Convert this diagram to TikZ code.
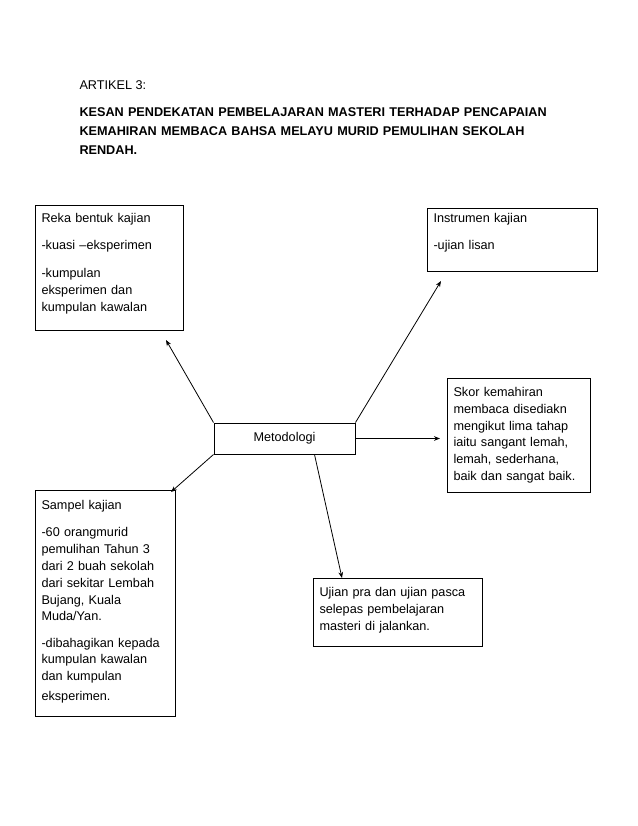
\documentclass[tikz,border=0pt]{standalone}
\usepackage{fontspec}
\setmainfont{Liberation Sans}
\usetikzlibrary{arrows.meta, positioning, calc}
\tikzset{
  every picture/.style={line width=0.75pt, x=0.75pt, y=-0.75pt},
  box/.style={draw, anchor=north west, align=left, inner xsep=4.5pt, inner ysep=0pt, font=\fontsize{9.5}{12.6}\selectfont},
  arrow/.style={-{Stealth[length=4.5pt, width=3.5pt]}, line width=0.6pt},
  title/.style={anchor=base west, align=left, inner sep=0pt, font=\fontsize{9.5}{14.25}\selectfont},
}

\begin{document}
\begin{tikzpicture}
  \useasboundingbox (0,0) rectangle (638,826);
  % heading
  \node[title] (art) at (79,89.5) {ARTIKEL 3:};
  \node[title, text width=420pt, font=\fontsize{9.5}{14.25}\selectfont\bfseries] (judul) at (79,116.5) {KESAN PENDEKATAN PEMBELAJARAN MASTERI TERHADAP PENCAPAIAN\\ KEMAHIRAN MEMBACA BAHSA MELAYU MURID PEMULIHAN SEKOLAH\\ RENDAH.};
  % centre and boxes
  \node[draw, minimum width=105.75pt, minimum height=23.25pt, font=\fontsize{9.5}{12.6}\selectfont] (met) at (284.5,438.5) {Metodologi};
  \node[box, text width=102pt, text height=12.75pt, text depth=81pt] (reka) at (35,205) {Reka bentuk kajian\\[8pt] -kuasi --eksperimen\\[8pt] -kumpulan\\ eksperimen dan\\ kumpulan kawalan};
  \node[box, text width=118.5pt, text height=10.5pt, text depth=36.75pt] (instr) at (427,208) {Instrumen kajian\\[8pt] -ujian lisan};
  \node[box, text width=98.25pt, text height=13.5pt, text depth=72pt] (skor) at (447,378) {Skor kemahiran\\ membaca disediakn\\ mengikut lima tahap\\ iaitu sangant lemah,\\ lemah, sederhana,\\ baik dan sangat baik.};
  \node[box, text width=96pt, text height=14.25pt, text depth=155.25pt] (sampel) at (35,490) {Sampel kajian\\[8pt] -60 orangmurid\\ pemulihan Tahun 3\\ dari 2 buah sekolah\\ dari sekitar Lembah\\ Bujang, Kuala\\ Muda/Yan.\\[7pt] -dibahagikan kepada\\ kumpulan kawalan\\ dan kumpulan\\[2.5pt] eksperimen.};
  \node[box, text width=117.75pt, text height=13.5pt, text depth=37.5pt] (ujian) at (313,578) {Ujian pra dan ujian pasca\\ selepas pembelajaran\\ masteri di jalankan.};
  % arrows out of the centre
  \draw[arrow] (met.north west) -- ($(reka.south east)+(-18,9)$);
  \draw[arrow] (met.north east) -- ($(instr.south west)+(14,9)$);
  \draw[arrow] (met.east) -- ($(met.east -| skor.west)+(-7,0)$);
  \draw[arrow] (met.south west) -- ($(sampel.north east)+(-5,2)$);
  \draw[arrow] ($(met.south)+(30,0)$) -- ($(ujian.north west)+(29,0)$);
\end{tikzpicture}
\end{document}
